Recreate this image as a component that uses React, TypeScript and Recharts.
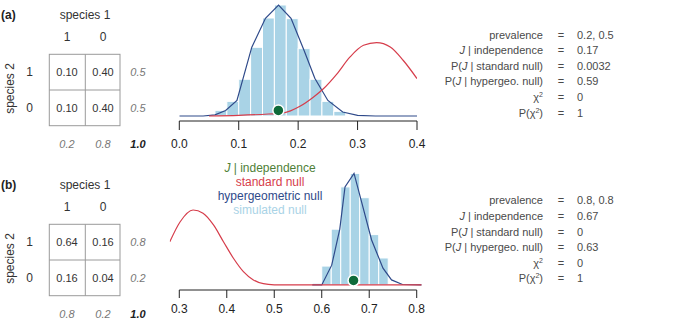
import React from "react"
import { ComposedChart, Bar, Line, Scatter, XAxis, YAxis, ReferenceLine } from "recharts"

const FONT = '"Liberation Sans", Arial, Helvetica, sans-serif'
const AXIS = "#222"
const SIM = "#a9d3e6"
const NAVY = "#2f4a8a"
const RED = "#d63d4b"
const GREEN = "#0e6a3a"
const LEGEND_GREEN = "#4f7f37"

// ---- panel (a): prevalence 0.2, 0.5 ----
const cellsA = [
  [0.1, 0.4],
  [0.1, 0.4],
]
const rowTotalsA = [0.5, 0.5]
const colTotalsA = [0.2, 0.8]
const statsA = ["0.2, 0.5", "0.17", "0.0032", "0.59", "0", "1"]

const binsA = [0.07, 0.09, 0.11, 0.13, 0.15, 0.17, 0.19, 0.21, 0.23, 0.25, 0.27]
const simA = [0.51, 1.32, 3.31, 6.19, 8.83, 10.0, 8.77, 6.07, 3.31, 1.32, 0.42]
const hyperAx = [0, 0.04, 0.06, 0.078, 0.097, 0.122, 0.145, 0.167, 0.188, 0.21, 0.228, 0.25, 0.275, 0.3, 0.33, 0.4]
const hyperAy = [0, 0, 0.1, 0.5, 1.4, 6.2, 8.8, 10.0, 8.8, 5.9, 3.4, 1.4, 0.36, 0.05, 0, 0]
const stdAx = [0.05, 0.1, 0.15, 0.175, 0.203, 0.226, 0.242, 0.265, 0.287, 0.31, 0.332, 0.355, 0.377, 0.4]
const stdAy = [0, 0.06, 0.18, 0.27, 0.87, 1.71, 2.43, 3.78, 5.3, 6.37, 6.61, 6.22, 5.0, 3.37]
const observedA = 0.1667
const ticksA = [0, 0.1, 0.2, 0.3, 0.4]

// ---- panel (b): prevalence 0.8, 0.8 ----
const cellsB = [
  [0.64, 0.16],
  [0.16, 0.04],
]
const rowTotalsB = [0.8, 0.2]
const colTotalsB = [0.8, 0.2]
const statsB = ["0.8, 0.8", "0.67", "0", "0.63", "0", "1"]

const binsB = [0.59, 0.61, 0.63, 0.65, 0.67, 0.69, 0.71, 0.73]
const simB = [0.19, 2.1, 6.2, 10.9, 12.4, 9.7, 5.6, 3.0]
const hyperBx = [0.58, 0.6, 0.621, 0.638, 0.649, 0.668, 0.684, 0.705, 0.729, 0.747, 0.77, 0.81]
const hyperBy = [0, 0, 2.2, 6.2, 10.9, 12.4, 9.2, 5.0, 1.86, 0.56, 0.05, 0]
const stdBx = [0.28, 0.3015, 0.329, 0.35, 0.372, 0.393, 0.414, 0.435, 0.456, 0.477, 0.5, 0.53, 0.81]
const stdBy = [4.8, 7.0, 8.33, 7.97, 6.67, 4.8, 2.97, 1.48, 0.56, 0.14, 0.02, 0, 0]
const observedB = 0.667
const ticksB = [0.3, 0.4, 0.5, 0.6, 0.7, 0.8]

const legendItems = [
  { key: "obs", color: LEGEND_GREEN },
  { key: "standard null", color: RED },
  { key: "hypergeometric null", color: NAVY },
  { key: "simulated null", color: SIM },
]

const toPoints = (xs: number[], ys: number[]) => xs.map((x, i) => ({ x, y: ys[i] }))

interface ChartProps {
  width: number
  height: number
  margin: { top: number; right: number; bottom: number; left: number }
  xDomain: [number, number]
  yDomain: [number, number]
  ticks: number[]
  tickSize: number
  tickMargin: number
  hist: { x: number; y: number }[]
  hyper: { x: number; y: number }[]
  std: { x: number; y: number }[]
  observed: number
  binWidth: number
}

function NullChart(p: ChartProps) {
  const plotW = p.width - p.margin.left - p.margin.right
  const bw = (p.binWidth * plotW) / (p.xDomain[1] - p.xDomain[0])
  return (
    <ComposedChart width={p.width} height={p.height} data={p.hist} margin={p.margin}>
      <XAxis
        type="number"
        dataKey="x"
        domain={p.xDomain}
        ticks={p.ticks}
        interval={0}
        allowDataOverflow
        axisLine={false}
        tickLine={{ stroke: AXIS }}
        tickSize={p.tickSize}
        tickMargin={p.tickMargin}
        height={34}
        tick={{ fill: AXIS, fontSize: 12, fontFamily: FONT }}
        tickFormatter={(v: number) => v.toFixed(1)}
      />
      <YAxis hide type="number" domain={p.yDomain} allowDataOverflow />
      <ReferenceLine
        segment={[
          { x: p.ticks[0], y: p.yDomain[0] },
          { x: p.ticks[p.ticks.length - 1], y: p.yDomain[0] },
        ]}
        stroke={AXIS}
        strokeWidth={1}
        ifOverflow="visible"
      />
      <Bar
        dataKey="y"
        isAnimationActive={false}
        shape={(b: any) => {
          const cx = b.x + b.width / 2
          return <rect x={cx - bw / 2} y={b.y} width={bw} height={Math.max(0, b.height)} fill={SIM} stroke="#fff" strokeWidth={1} />
        }}
      />
      <Line data={p.hyper} dataKey="y" type="linear" stroke={NAVY} strokeWidth={1.2} dot={false} isAnimationActive={false} />
      <Line data={p.std} dataKey="y" type="monotone" stroke={RED} strokeWidth={1.2} dot={false} isAnimationActive={false} />
      <Scatter
        data={[{ x: p.observed, y: 0.5 }]}
        dataKey="y"
        isAnimationActive={false}
        shape={(s: any) => <circle cx={s.cx} cy={s.cy} r={5.5} fill={GREEN} stroke="#fff" strokeWidth={1.5} />}
      />
    </ComposedChart>
  )
}

function Table({ dy, tag, cells, rowTotals, colTotals }: { dy: number; tag: string; cells: number[][]; rowTotals: number[]; colTotals: number[] }) {
  const colX = [67, 103]
  const rowY = [76.2, 112]
  return (
    <g transform={`translate(0,${dy})`} fontFamily={FONT}>
      <text x={1} y={19} fontSize={12} fontWeight="bold" fill="#222">{tag}</text>
      <text x={85} y={19} fontSize={12} fill="#333" textAnchor="middle">species 1</text>
      {["1", "0"].map((t, i) => (
        <text key={t} x={colX[i]} y={41} fontSize={12} fill="#333" textAnchor="middle">{t}</text>
      ))}
      <text transform="translate(14,88.5) rotate(-90)" fontSize={12} fill="#333" textAnchor="middle">species 2</text>
      {["1", "0"].map((t, i) => (
        <text key={t} x={29.5} y={rowY[i]} fontSize={12} fill="#333" textAnchor="middle">{t}</text>
      ))}
      <rect x={49.3} y={54.3} width={70.7} height={71.4} fill="none" stroke="#9a9a9a" strokeWidth={1} />
      <line x1={85.3} y1={54.3} x2={85.3} y2={125.7} stroke="#9a9a9a" strokeWidth={1} />
      <line x1={49.3} y1={90} x2={120} y2={90} stroke="#9a9a9a" strokeWidth={1} />
      {cells.map((row, r) =>
        row.map((v, c) => (
          <text key={`${r}-${c}`} x={colX[c]} y={rowY[r]} fontSize={11} fill="#333" textAnchor="middle">{v.toFixed(2)}</text>
        ))
      )}
      {rowTotals.map((v, r) => (
        <text key={r} x={138} y={rowY[r]} fontSize={11} fontStyle="italic" fill="#777" textAnchor="middle">{v.toFixed(1)}</text>
      ))}
      {colTotals.map((v, c) => (
        <text key={c} x={colX[c]} y={148} fontSize={11} fontStyle="italic" fill="#777" textAnchor="middle">{v.toFixed(1)}</text>
      ))}
      <text x={138} y={148} fontSize={11} fontStyle="italic" fontWeight="bold" fill="#222" textAnchor="middle">1.0</text>
    </g>
  )
}

function StatLabel({ i }: { i: number }) {
  const J = <tspan fontStyle="italic">J</tspan>
  switch (i) {
    case 0:
      return <>prevalence</>
    case 1:
      return <>{J}<tspan> | independence</tspan></>
    case 2:
      return <>P({J}<tspan> | standard null)</tspan></>
    case 3:
      return <>P({J}<tspan> | hypergeo. null)</tspan></>
    case 4:
      return <>χ<tspan dy={-4} fontSize={7}>2</tspan></>
    default:
      return <>P(χ<tspan dy={-4} fontSize={7}>2</tspan><tspan dy={4}>)</tspan></>
  }
}

function Stats({ y0, values }: { y0: number; values: string[] }) {
  return (
    <g fontFamily={FONT} fontSize={11} fill="#4a4a4a">
      {values.map((v, i) => {
        const y = y0 + i * 15.6 + 4
        return (
          <g key={i}>
            <text x={543} y={y} textAnchor="end"><StatLabel i={i} /></text>
            <text x={561} y={y} textAnchor="middle">=</text>
            <text x={577} y={y}>{v}</text>
          </g>
        )
      })}
    </g>
  )
}

export default function App() {
  return (
    <div style={{ position: "absolute", left: 0, top: 0, width: 683, height: 319, background: "#fff", overflow: "hidden" }}>
      <div style={{ position: "absolute", left: 160, top: 0 }}>
        <NullChart
          width={270}
          height={155}
          margin={{ top: 0, right: 13, bottom: 0, left: 19.3 }}
          xDomain={[0, 0.4]}
          yDomain={[-0.45, 10.45]}
          ticks={ticksA}
          tickSize={9}
          tickMargin={9}
          hist={toPoints(binsA, simA)}
          hyper={toPoints(hyperAx, hyperAy)}
          std={toPoints(stdAx, stdAy)}
          observed={observedA}
          binWidth={0.02}
        />
      </div>
      <div style={{ position: "absolute", left: 160, top: 159 }}>
        <NullChart
          width={280}
          height={165}
          margin={{ top: 0, right: 13.8, bottom: 0, left: 9.8 }}
          xDomain={[0.28, 0.82]}
          yDomain={[-0.56, 14]}
          ticks={ticksB}
          tickSize={8}
          tickMargin={6}
          hist={toPoints(binsB, simB)}
          hyper={toPoints(hyperBx, hyperBy)}
          std={toPoints(stdBx, stdBy)}
          observed={observedB}
          binWidth={0.02}
        />
      </div>
      <svg width={683} height={319} style={{ position: "absolute", left: 0, top: 0, pointerEvents: "none" }}>
        <Table dy={0} tag="(a)" cells={cellsA} rowTotals={rowTotalsA} colTotals={colTotalsA} />
        <Table dy={170} tag="(b)" cells={cellsB} rowTotals={rowTotalsB} colTotals={colTotalsB} />
        <Stats y0={34.5} values={statsA} />
        <Stats y0={200.3} values={statsB} />
        <g fontFamily={FONT} fontSize={12} textAnchor="middle">
          {legendItems.map((it, i) => (
            <text key={it.key} x={270} y={167.5 + i * 14.2 + 4.2} fill={it.color}>
              {it.key === "obs" ? (
                <><tspan fontStyle="italic">J</tspan><tspan> | independence</tspan></>
              ) : (
                it.key
              )}
            </text>
          ))}
        </g>
      </svg>
    </div>
  )
}
